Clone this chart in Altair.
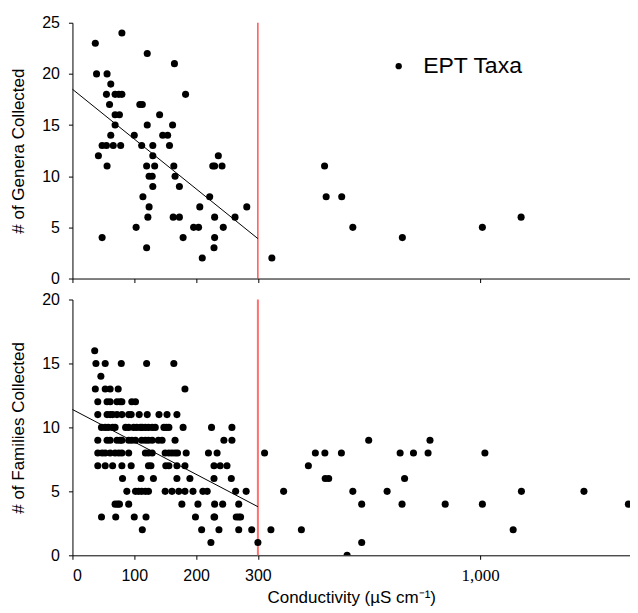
import altair as alt
import pandas as pd

# ---- EPT genera (top panel) ----
genera_cond = [37, 80, 121, 165, 39, 56, 62, 55, 69, 75, 80, 183, 60, 109, 113,
               69, 76, 141, 69, 121, 162, 62, 100, 146, 154, 48, 55, 66, 78, 112,
               130, 157, 42, 130, 236, 56, 120, 133, 164, 227, 230, 242, 124, 129,
               166, 130, 173, 114, 222, 124, 206, 282, 122, 163, 173, 230, 263, 103,
               196, 204, 244, 48, 179, 230, 120, 229, 210, 344, 510, 515, 564, 599,
               755, 1007, 1129]
genera_count = [23, 24, 22, 21, 20, 20, 19, 18, 18, 18, 18, 18, 17, 17, 17,
                16, 16, 16, 15, 15, 15, 14, 14, 14, 14, 13, 13, 13, 13, 13,
                13, 13, 12, 12, 12, 11, 11, 11, 11, 11, 11, 11, 10, 10,
                10, 9, 9, 8, 8, 7, 7, 7, 6, 6, 6, 6, 6, 5,
                5, 5, 5, 4, 4, 4, 3, 3, 2, 2, 11, 8, 8, 5,
                4, 5, 6]

# ---- EPT families (bottom panel) ----
fam_rows = {
    16: [36],
    15: [38, 53, 79, 120, 164],
    14: [46],
    13: [37, 53, 61, 74, 182],
    12: [41, 56, 61, 72, 77, 80, 96, 102],
    11: [41, 56, 61, 65, 72, 80, 91, 95, 108, 121, 140, 153, 169],
    10: [47, 53, 58, 65, 69, 86, 91, 99, 104, 110, 113, 118, 123, 129, 134, 148,
         152, 156, 179, 225, 258],
    9: [41, 56, 61, 72, 77, 80, 91, 96, 102, 112, 118, 123, 129, 139, 145, 166,
        245, 258, 649, 842],
    8: [41, 48, 53, 61, 69, 75, 80, 91, 118, 123, 129, 150, 156, 161, 166, 170,
        184, 220, 234, 321, 481, 511, 563, 748, 790, 836, 1015],
    7: [41, 53, 65, 80, 95, 123, 127, 151, 156, 169, 182, 229, 239, 250, 459],
    6: [81, 111, 131, 169, 190, 229, 257, 512, 523, 762],
    5: [88, 102, 107, 112, 118, 123, 150, 161, 172, 182, 195, 211, 218, 264, 281,
        381, 599, 707, 1130, 1327, 1496],
    4: [69, 73, 76, 91, 177, 203, 230, 243, 269, 627, 754, 890, 1007, 1467],
    3: [47, 70, 100, 119, 199, 229, 230, 265, 269, 272],
    2: [113, 209, 237, 269, 290, 341, 437, 1104],
    1: [224, 300, 627],
    0: [581],
}
fam_cond = [c for k in fam_rows for c in fam_rows[k]]
fam_count = [k for k in fam_rows for _ in fam_rows[k]]

genera_fit_x = [0, 300]
genera_fit_y = [18.5, 3.9]
fam_fit_x = [0, 300]
fam_fit_y = [11.4, 3.8]
threshold = [300]
x_ticks = [0, 100, 200, 300, 1000]
series_name = ["EPT Taxa"]

gen_df = pd.DataFrame({"c": genera_cond, "n": genera_count, "series": series_name * len(genera_cond)})
fam_df = pd.DataFrame({"c": fam_cond, "n": fam_count})
gfit = pd.DataFrame({"c": genera_fit_x, "n": genera_fit_y})
ffit = pd.DataFrame({"c": fam_fit_x, "n": fam_fit_y})
thr = pd.DataFrame({"c": threshold})

W, H = 558, 256
SANS = "Liberation Sans"

x_scale = alt.Scale(domain=[0, 300, 1472], range=[0, 185.6, W], nice=False, zero=False)

label_font = {"condition": {"test": "datum.value == 1000", "value": "Liberation Serif"}, "value": SANS}
label_size = {"condition": {"test": "datum.value == 1000", "value": 17}, "value": 16}

x_axis_top = alt.Axis(values=x_ticks, labels=False, title=None, tickSize=4, grid=False)
x_axis_bot = alt.Axis(values=x_ticks, title="Conductivity (µS cm⁻¹)", tickSize=4,
                      labelPadding=8, labelFont=label_font, labelFontSize=label_size,
                      labelExpr="format(datum.value, datum.value >= 1000 ? ',' : 'd')",
                      titleFont=SANS, titleFontSize=17, titleFontWeight="normal",
                      titlePadding=6, grid=False)


def y_axis(title, top):
    return alt.Axis(values=list(range(0, top + 1, 5)), title=title, tickSize=4,
                    labelPadding=9, labelFont=SANS, labelFontSize=16,
                    titleFont=SANS, titleFontSize=17, titleFontWeight="normal",
                    titlePadding=14, grid=False)


# top panel
g_pts = alt.Chart(gen_df).mark_point(filled=True, size=50, opacity=1, clip=True).encode(
    x=alt.X("c:Q", scale=x_scale, axis=x_axis_top),
    y=alt.Y("n:Q", scale=alt.Scale(domain=[0, 25], nice=False), axis=y_axis("# of Genera Collected", 25)),
    color=alt.Color("series:N", scale=alt.Scale(domain=series_name, range=["black"]),
                    legend=alt.Legend(title=None, orient="none", legendX=315, legendY=32,
                                      labelFontSize=23, labelFont=SANS, labelColor="black",
                                      symbolSize=40, symbolType="circle", labelOffset=13,
                                      symbolStrokeWidth=0, symbolFillColor="black")),
)
g_fit = alt.Chart(gfit).mark_line(color="black", strokeWidth=1).encode(
    x=alt.X("c:Q", scale=x_scale), y=alt.Y("n:Q"))
g_thr = alt.Chart(thr).mark_rule(color="#ff0000", strokeWidth=1).encode(x=alt.X("c:Q", scale=x_scale))
top = alt.layer(g_thr, g_fit, g_pts).properties(width=W, height=H)

# bottom panel
f_pts = alt.Chart(fam_df).mark_point(filled=True, size=50, opacity=1, color="black", clip=True).encode(
    x=alt.X("c:Q", scale=x_scale, axis=x_axis_bot),
    y=alt.Y("n:Q", scale=alt.Scale(domain=[0, 20], nice=False), axis=y_axis("# of Families Collected", 20)),
)
f_fit = alt.Chart(ffit).mark_line(color="black", strokeWidth=1).encode(
    x=alt.X("c:Q", scale=x_scale), y=alt.Y("n:Q"))
f_thr = alt.Chart(thr).mark_rule(color="#ff7070", strokeWidth=2).encode(x=alt.X("c:Q", scale=x_scale))
bottom = alt.layer(f_thr, f_fit, f_pts).properties(width=W, height=H)

chart = alt.vconcat(top, bottom, spacing=21, bounds="flush").resolve_scale(
    x="independent", y="independent"
).properties(
    padding={"left": 1.5, "top": 6.5, "right": 0, "bottom": 0}
).configure_view(stroke=None).configure_axis(
    domainColor="black", tickColor="black", labelColor="black", titleColor="black",
    domainWidth=1, tickWidth=1
)

chart.save("out.html", embed_options={"renderer": "svg", "actions": False})
